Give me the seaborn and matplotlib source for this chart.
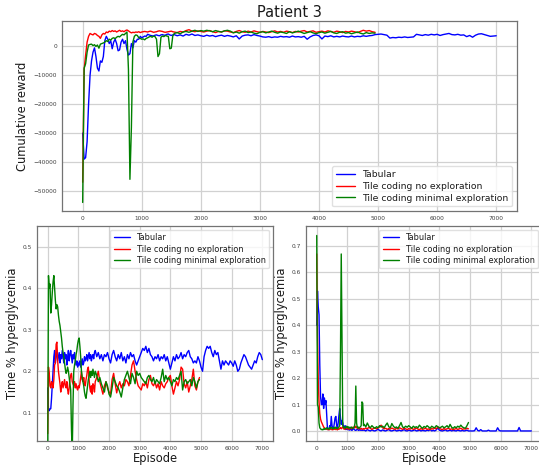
import numpy as np
import pandas as pd
import matplotlib
matplotlib.use("Agg")
import matplotlib.pyplot as plt
import seaborn as sns

# Episode grids: every 25 episodes up to 1525, then every 50
episodes_tabular = np.r_[np.arange(0, 1550, 25), np.arange(1550, 7001, 50)]
episodes_tile = np.r_[np.arange(0, 1550, 25), np.arange(1550, 4951, 50)]

series_names = ["Tabular", "Tile coding no exploration", "Tile coding minimal exploration"]
series_colors = ["blue", "red", "green"]

# ---- Cumulative reward ----
reward_tabular = [
    -30000, -39000, -38500, -33000, -20000, -10000, -5000, -2000, -500, -3500,
    -7500, -8500, -5000, -5500, -3500, 2000, 3500, 2500, 1000, 2000,
    -800, 1500, 2500, 1000, -1500, -1200, 1500, 2500, 1000, 2000,
    -1000, -3000, -2500, 1000, -500, 2000, 1500, 2500, 2500, 3500,
    3000, 3300, 3600, 3500, 4200, 4000, 3800, 3700, 3600, 3900,
    4000, 3800, 3700, 4000, 4100, 3900, 3900, 4200, 4300, 4000,
    3800, 4000,
    4100, 3700, 4000, 3600, 4200, 3900, 4300, 3800, 4000, 3700,
    3500, 3900, 3600, 3800, 3400, 3700, 3900, 3500, 3800, 3600,
    3300, 3700, 2600, 3600, 3900, 4000, 3700, 4100, 3800, 3600,
    3300, 3200, 3400, 3100, 3300, 3200, 3500, 3300, 3400, 3200,
    3600, 3300, 3400, 3200, 3500, 2500, 3300, 3800, 4000, 3700,
    2600, 3600, 3400, 3700, 3300, 3500, 3300, 3600, 3400, 3300,
    3600, 3300, 3500, 3400, 3700, 3500, 3700, 3800, 4100, 4200,
    4300, 4100, 3900, 2900, 3100, 3000, 3200, 3100, 3300, 3100,
    3200, 3300, 4200, 4000, 3800, 4100, 3900, 4200, 4000, 4200,
    3800, 4100, 4300, 4500, 4100, 4000, 4200, 3900, 4000, 3400,
    3800, 3200, 3900, 4300, 4400, 4100, 3800, 3500, 3600, 3700,
]
reward_no_expl = [
    -47000, -8000, -3000, 1500, 3500, 4500, 4200, 4000, 4500, 4300,
    3800, 3500, 2800, 4000, 4500, 4300, 5000, 4800, 5300, 5100,
    5500, 5200, 5400, 5000, 5300, 5600, 5200, 5400, 5100, 5500,
    5700, 5400, 5000, 4700, 4900, 4800, 5000, 4900, 5100, 4800,
    5000, 5100, 5200, 5100, 5000, 5200, 5300, 5100, 4900, 5000,
    5100, 5300, 5400, 5300, 5200, 5000, 4900, 5000, 5100, 5200,
    5300, 5100,
    5000, 4800, 5200, 5000, 5500, 5800, 5300, 5100, 5400, 5200,
    5000, 5300, 5500, 5100, 4800, 5200, 5000, 5400, 5300, 5000,
    4800, 5200, 5500, 5100, 4900, 5300, 5000, 5400, 5100, 4900,
    5200, 5000, 4800, 5100, 5400, 5000, 5200, 4900, 5300, 5100,
    4800, 5200, 5000, 5300, 5500, 5000, 5200, 5400, 4900, 5100,
    5300, 5000, 5400, 5200, 4900, 5300, 5100, 4800, 5200, 5000,
    5300, 5100, 4800, 5200, 5600, 5300, 5500, 5100, 4900,
]
reward_min_expl = [
    -54000, -7500, -6000, -2000, 500, 700, 800, 300, 600, 0,
    500, -600, 800, 1000, 1200, 1500, 2000, 1700, 2500, 2200,
    2800, 3000, 2700, 3200, 3500, 3300, 3800, 4200, 4000, 4500,
    5000, -8000, -46000, -28000, 1500, 3500, 4000, 3800, 3000, 2800,
    2500, 2600, 2300, 2800, 3000, 3300, 3500, 3200, 3600, 3400,
    2500, -3500, -2500, 3200, 3600, 3400, 3800, 3600, 3500, -800,
    -600, 3600,
    4500, 4800, 4400, 5000, 5200, 4900, 5300, 5600, 5200, 5500,
    5300, 5600, 5400, 5100, 5500, 5200, 5000, 5400, 5600, 5300,
    4700, 5000, 4600, 5100, 5300, 4800, 5000, 4600, 4400, 4900,
    5100, 4700, 5000, 5300, 4900, 4600, 5000, 4800, 4500, 5100,
    4700, 5000, 5300, 4900, 4500, 4800, 5100, 4700, 4400, 4800,
    5000, 4600, 4900, 5200, 4700, 4500, 4900, 5100, 4600, 4800,
    4400, 4700, 5000, 4600, 4300, 4800, 4500, 4700, 4600,
]

# ---- Time % hyperglycemia (left panel) ----
hyper_tabular = [
    0.16, 0.108, 0.105, 0.11, 0.11, 0.135, 0.17, 0.21, 0.235, 0.25,
    0.22, 0.24, 0.25, 0.225, 0.235, 0.245, 0.22, 0.24, 0.23, 0.25,
    0.235, 0.22, 0.245, 0.23, 0.24, 0.215, 0.235, 0.25, 0.225, 0.24,
    0.25, 0.235, 0.22, 0.24, 0.23, 0.245, 0.225, 0.215, 0.225, 0.21,
    0.22, 0.215, 0.225, 0.21, 0.22, 0.23, 0.215, 0.22, 0.235, 0.225,
    0.23, 0.24, 0.225, 0.235, 0.245, 0.23, 0.24, 0.225, 0.235, 0.24,
    0.23, 0.245,
    0.25, 0.235, 0.245, 0.23, 0.24, 0.225, 0.24, 0.235, 0.245, 0.23,
    0.22, 0.24, 0.25, 0.235, 0.225, 0.24, 0.23, 0.245, 0.225, 0.235,
    0.22, 0.24, 0.23, 0.245, 0.235, 0.24, 0.225, 0.215, 0.225, 0.235,
    0.245, 0.255, 0.25, 0.26, 0.245, 0.255, 0.24, 0.235, 0.225, 0.235,
    0.23, 0.24, 0.225, 0.235, 0.23, 0.24, 0.225, 0.235, 0.22, 0.205,
    0.22, 0.235, 0.225, 0.24, 0.23, 0.235, 0.245, 0.23, 0.24, 0.235,
    0.245, 0.25, 0.235, 0.23, 0.22, 0.225, 0.22, 0.235, 0.225, 0.21,
    0.2, 0.235, 0.25, 0.26, 0.255, 0.26, 0.245, 0.235, 0.25, 0.24,
    0.245, 0.225, 0.205, 0.225, 0.215, 0.225, 0.22, 0.215, 0.225, 0.22,
    0.212, 0.225, 0.215, 0.2, 0.205, 0.22, 0.23, 0.24, 0.235, 0.225,
    0.215, 0.21, 0.205, 0.215, 0.225, 0.22, 0.235, 0.245, 0.24, 0.228,
]
hyper_no_expl = [
    0.05, 0.21, 0.195, 0.165, 0.16, 0.175, 0.17, 0.16, 0.18, 0.215,
    0.22, 0.265, 0.27, 0.225, 0.2, 0.185, 0.17, 0.15, 0.165, 0.175,
    0.16, 0.17, 0.18, 0.165, 0.16, 0.175, 0.155, 0.145, 0.16, 0.18,
    0.19, 0.195, 0.175, 0.17, 0.165, 0.175, 0.16, 0.17, 0.16, 0.155,
    0.165, 0.16, 0.17, 0.185, 0.2, 0.18, 0.175, 0.185, 0.17, 0.165,
    0.18, 0.19, 0.205, 0.21, 0.18, 0.16, 0.15, 0.165, 0.145, 0.17,
    0.165, 0.15,
    0.175, 0.185, 0.2, 0.175, 0.16, 0.145, 0.165, 0.175, 0.16, 0.15,
    0.145, 0.18, 0.195, 0.17, 0.148, 0.165, 0.175, 0.16, 0.17, 0.165,
    0.18, 0.175, 0.165, 0.19, 0.215, 0.225, 0.2, 0.18, 0.165, 0.16,
    0.155, 0.17, 0.165, 0.175, 0.16, 0.18, 0.19, 0.17, 0.165, 0.175,
    0.16, 0.17, 0.155, 0.175, 0.165, 0.16, 0.17, 0.175, 0.185, 0.19,
    0.165, 0.145, 0.16, 0.175, 0.165, 0.18, 0.21, 0.205, 0.17, 0.16,
    0.175, 0.15, 0.165, 0.18, 0.205, 0.165, 0.155, 0.175, 0.185,
]
hyper_min_expl = [
    0.0, 0.43, 0.4, 0.41, 0.34, 0.36, 0.39, 0.415, 0.43, 0.4,
    0.37, 0.35, 0.36, 0.355, 0.335, 0.32, 0.31, 0.295, 0.28, 0.26,
    0.245, 0.235, 0.22, 0.205, 0.195, 0.2, 0.21, 0.2, 0.185, 0.17,
    0.155, 0.06, 0.0, 0.12, 0.2, 0.215, 0.225, 0.24, 0.25, 0.265,
    0.275, 0.28, 0.26, 0.235, 0.2, 0.185, 0.175, 0.165, 0.15, 0.14,
    0.135, 0.15, 0.165, 0.18, 0.19, 0.2, 0.185, 0.2, 0.19, 0.205,
    0.195, 0.185,
    0.2, 0.19, 0.175, 0.185, 0.17, 0.16, 0.15, 0.175, 0.165, 0.145,
    0.138, 0.16, 0.185, 0.175, 0.165, 0.16, 0.15, 0.138, 0.16, 0.18,
    0.19, 0.2, 0.185, 0.17, 0.195, 0.185, 0.17, 0.2, 0.19, 0.195,
    0.185, 0.18, 0.175, 0.17, 0.185, 0.19, 0.18, 0.175, 0.185, 0.17,
    0.18, 0.175, 0.17, 0.185, 0.205, 0.175, 0.19, 0.18, 0.185, 0.175,
    0.165, 0.18, 0.175, 0.185, 0.18, 0.19, 0.2, 0.155, 0.175, 0.18,
    0.17, 0.175, 0.18, 0.165, 0.185, 0.175, 0.16, 0.175, 0.18,
]

# ---- Time % hyperglycemia (right panel) ----
hypo_tabular = [
    0.40, 0.53, 0.47, 0.44, 0.25, 0.13, 0.10, 0.10, 0.14, 0.085,
    0.125, 0.10, 0.115, 0.06, 0.008, 0.005, 0.008, 0.02, 0.012, 0.055,
    0.02, 0.008, 0.01, 0.03, 0.05, 0.055, 0.02, 0.01, 0.03, 0.06,
    0.085, 0.05, 0.025, 0.04, 0.03, 0.015, 0.01, 0.02, 0.005, 0.008,
    0.01, 0.004, 0.006, 0.003, 0.008, 0.004, 0.002, 0.006, 0.012, 0.005,
    0.003, 0.002, 0.004, 0.008, 0.003, 0.002, 0.005, 0.003, 0.002, 0.004,
    0.002, 0.003,
    0.003, 0.0, 0.005, 0.002, 0.0, 0.004, 0.001, 0.0, 0.003, 0.006,
    0.002, 0.0, 0.004, 0.001, 0.0, 0.003, 0.005, 0.001, 0.0, 0.002,
    0.004, 0.0, 0.001, 0.003, 0.0, 0.002, 0.005, 0.001, 0.0, 0.003,
    0.001, 0.0, 0.002, 0.004, 0.0, 0.001, 0.003, 0.0, 0.002, 0.001,
    0.0, 0.003, 0.001, 0.005, 0.0, 0.002, 0.0, 0.004, 0.012, 0.003,
    0.001, 0.0, 0.002, 0.004, 0.0, 0.001, 0.003, 0.0, 0.002, 0.001,
    0.0, 0.003, 0.001, 0.0, 0.002, 0.0, 0.001, 0.003, 0.0,
    0.0, 0.0, 0.0, 0.001, 0.012, 0.002, 0.0, 0.005, 0.0, 0.0,
    0.0, 0.0, 0.003, 0.0, 0.0, 0.0, 0.0, 0.0, 0.012, 0.002,
    0.0, 0.0, 0.0, 0.0, 0.0, 0.0, 0.0, 0.0, 0.0, 0.0,
    0.0, 0.0, 0.013, 0.0, 0.0, 0.0, 0.0, 0.0, 0.0, 0.0, 0.0,
]
hypo_no_expl = [
    0.67, 0.36, 0.19, 0.11, 0.065, 0.045, 0.035, 0.028, 0.02, 0.015,
    0.012, 0.008, 0.006, 0.008, 0.005, 0.007, 0.004, 0.006, 0.009, 0.005,
    0.007, 0.004, 0.008, 0.006, 0.01, 0.005, 0.007, 0.004, 0.008, 0.006,
    0.01, 0.013, 0.008, 0.012, 0.015, 0.009, 0.006, 0.01, 0.007, 0.012,
    0.008, 0.01, 0.006, 0.009, 0.012, 0.008, 0.011, 0.014, 0.01, 0.016,
    0.012, 0.018, 0.014, 0.01, 0.008, 0.012, 0.009, 0.007, 0.01, 0.008,
    0.006, 0.009,
    0.007, 0.011, 0.008, 0.014, 0.01, 0.006, 0.009, 0.012, 0.008, 0.011,
    0.015, 0.022, 0.012, 0.008, 0.01, 0.006, 0.009, 0.007, 0.011, 0.008,
    0.006, 0.01, 0.007, 0.012, 0.009, 0.006, 0.01, 0.008, 0.005, 0.009,
    0.007, 0.01, 0.006, 0.008, 0.011, 0.007, 0.005, 0.009, 0.006, 0.008,
    0.01, 0.006, 0.008, 0.005, 0.009, 0.007, 0.011, 0.008, 0.015, 0.01,
    0.007, 0.005, 0.009, 0.006, 0.008, 0.01, 0.006, 0.008, 0.005, 0.007,
    0.009, 0.006, 0.008, 0.01, 0.006, 0.008, 0.007, 0.01, 0.008,
]
hypo_min_expl = [
    0.74, 0.1, 0.09, 0.03, 0.012, 0.008, 0.005, 0.006, 0.004, 0.008,
    0.006, 0.01, 0.007, 0.012, 0.008, 0.01, 0.006, 0.012, 0.009, 0.014,
    0.01, 0.007, 0.012, 0.009, 0.015, 0.01, 0.013, 0.008, 0.012, 0.015,
    0.02, 0.3, 0.67, 0.35, 0.02, 0.012, 0.015, 0.01, 0.014, 0.018,
    0.012, 0.016, 0.01, 0.014, 0.011, 0.015, 0.012, 0.009, 0.013, 0.015,
    0.03, 0.17, 0.03, 0.012, 0.015, 0.01, 0.013, 0.016, 0.02, 0.11,
    0.105, 0.02,
    0.025, 0.015, 0.03, 0.018, 0.012, 0.02, 0.014, 0.01, 0.016, 0.012,
    0.02, 0.015, 0.018, 0.012, 0.022, 0.03, 0.016, 0.012, 0.028, 0.018,
    0.012, 0.015, 0.01, 0.02, 0.032, 0.015, 0.012, 0.018, 0.014, 0.02,
    0.015, 0.01, 0.018, 0.013, 0.016, 0.012, 0.022, 0.015, 0.01, 0.017,
    0.013, 0.02, 0.015, 0.01, 0.018, 0.014, 0.012, 0.02, 0.016, 0.012,
    0.014, 0.018, 0.012, 0.015, 0.02, 0.012, 0.025, 0.014, 0.01, 0.016,
    0.012, 0.018, 0.014, 0.022, 0.015, 0.012, 0.01, 0.02, 0.032,
]

sns.set_theme(style="whitegrid")
plt.rcParams.update({
    "font.family": ["DejaVu Sans"],
    "axes.edgecolor": "0.45",
    "axes.linewidth": 0.9,
    "grid.color": "0.82",
    "grid.linewidth": 0.9,
    "xtick.color": "0.25",
    "ytick.color": "0.25",
    "text.color": "0.1",
    "axes.labelcolor": "0.1",
})

fig = plt.figure(figsize=(5.39, 4.68), dpi=100)
ax_top = fig.add_axes([0.115, 0.549, 0.844, 0.406])
ax_left = fig.add_axes([0.0686, 0.0583, 0.438, 0.4594])
ax_right = fig.add_axes([0.5677, 0.0583, 0.438, 0.4594])


def draw_panel(ax, values, legend_size, legend_loc):
    eps = [episodes_tabular, episodes_tile, episodes_tile]
    for x, y, name, col in zip(eps, values, series_names, series_colors):
        sns.lineplot(x=x, y=np.asarray(y, dtype=float), ax=ax, color=col,
                     label=name, linewidth=1.0, estimator=None)
    ax.legend(loc=legend_loc, fontsize=legend_size, frameon=True,
              framealpha=0.8, edgecolor="0.85", borderpad=0.4,
              labelspacing=0.3, handlelength=2.0)
    ax.tick_params(axis="both", labelsize=4.2, length=0, pad=3.5)
    for side in ["top", "right", "bottom", "left"]:
        ax.spines[side].set_visible(True)


draw_panel(ax_top, [reward_tabular, reward_no_expl, reward_min_expl], 6.7, "lower right")
ax_top.set_title("Patient 3", fontsize=10.5, pad=3)
ax_top.set_ylabel("Cumulative reward", fontsize=8.3, labelpad=3)
ax_top.set_xlabel("")

draw_panel(ax_left, [hyper_tabular, hyper_no_expl, hyper_min_expl], 5.9, "upper right")
ax_left.set_ylim(0.033, 0.55)
ax_left.set_ylabel("Time % hyperglycemia", fontsize=8.3, labelpad=3)
ax_left.set_xlabel("Episode", fontsize=8.3, labelpad=1)

draw_panel(ax_right, [hypo_tabular, hypo_no_expl, hypo_min_expl], 5.9, "upper right")
ax_right.set_ylabel("Time % hyperglycemia", fontsize=8.3, labelpad=3)
ax_right.set_xlabel("Episode", fontsize=8.3, labelpad=1)

for ax in (ax_top, ax_left, ax_right):
    ax.set_xticks(range(0, 7001, 1000))

fig.savefig("out.png", dpi=100)
